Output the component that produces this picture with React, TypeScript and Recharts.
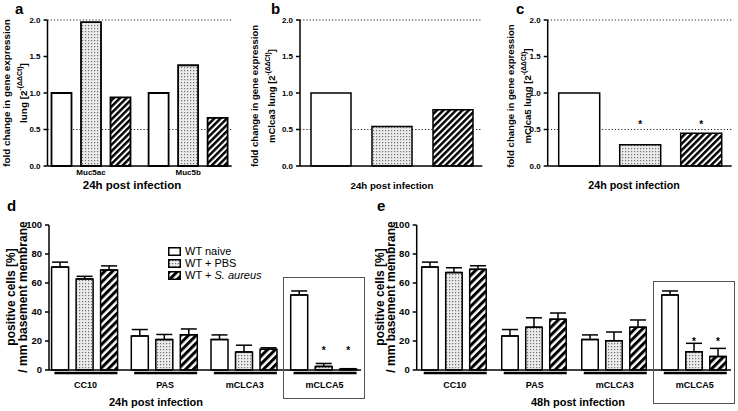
import React from "react";
import { Bar, BarChart, ErrorBar, LabelList, Legend, ReferenceLine, XAxis, YAxis } from "recharts";

const FONT = '"Liberation Sans", Arial, Helvetica, sans-serif';

// a: mucin genes, fold change 24h
const genesA = ["Muc5ac", "Muc5b"];
const naiveA = [1.0, 1.0];
const pbsA = [1.97, 1.38];
const aureusA = [0.94, 0.66];

// b: mClca3, c: mClca5 (single group each)
const naiveB = [1.0];
const pbsB = [0.54];
const aureusB = [0.77];
const naiveC = [1.0];
const pbsC = [0.29];
const aureusC = [0.45];
const starC = 0.6;

const foldTicks = [0, 0.5, 1, 1.5, 2];
const foldRefs = [0.5, 2];
const cellTicks = [0, 20, 40, 60, 80, 100];

// d / e: positive cells per mm basement membrane
const markers = ["CC10", "PAS", "mCLCA3", "mCLCA5"];
const naive24 = [71, 23.5, 21, 51.8];
const naive24Sd = [3.4, 4.4, 3.2, 2.7];
const pbs24 = [62.8, 21, 12.5, 2.5];
const pbs24Sd = [1.8, 3.5, 4.6, 2];
const aureus24 = [69, 24.3, 14.3, 0.6];
const aureus24Sd = [2.8, 4, 1, 0.3];
const star24 = 15;

const naive48 = [71, 23.5, 21, 51.8];
const naive48Sd = [3.4, 4.4, 3.2, 2.7];
const pbs48 = [67.2, 29.5, 20.2, 12.6];
const pbs48Sd = [3.3, 6.5, 6, 5.8];
const aureus48 = [69.4, 35, 29.5, 9.3];
const aureus48Sd = [2.5, 4.3, 5, 5.6];
const star48 = 21;
const starred = ["mCLCA5"];

const seriesNames = ["WT naive", "WT + PBS", "WT + S. aureus"];

const dataA = genesA.map((g, i) => ({ name: g, naive: naiveA[i], pbs: pbsA[i], aureus: aureusA[i] }));
const dataB = naiveB.map((v, i) => ({ name: "mClca3", naive: v, pbs: pbsB[i], aureus: aureusB[i] }));
const dataC = naiveC.map((v, i) => ({
  name: "mClca5",
  naive: v,
  pbs: pbsC[i],
  aureus: aureusC[i],
  sPbs: starC,
  sAureus: starC,
}));

function cellRows(naive: number[], naiveSd: number[], pbs: number[], pbsSd: number[], aur: number[], aurSd: number[], star: number) {
  return markers.map((m, i) => ({
    name: m,
    naive: naive[i],
    pbs: pbs[i],
    aureus: aur[i],
    eNaive: [0, naiveSd[i]],
    ePbs: [0, pbsSd[i]],
    eAureus: [0, aurSd[i]],
    sPbs: starred.includes(m) ? star : null,
    sAureus: starred.includes(m) ? star : null,
  }));
}
const dataD = cellRows(naive24, naive24Sd, pbs24, pbs24Sd, aureus24, aureus24Sd, star24);
const dataE = cellRows(naive48, naive48Sd, pbs48, pbs48Sd, aureus48, aureus48Sd, star48);

function patterns(id: string, step: number) {
  return (
    <defs>
      <pattern id={`dots-${id}`} width={3} height={3} patternUnits="userSpaceOnUse">
        <rect width={3} height={3} fill="#ebebeb" />
        <rect x={1} y={1} width={1.2} height={1.2} fill="#707070" />
      </pattern>
      <pattern id={`hatch-${id}`} width={step} height={step} patternUnits="userSpaceOnUse" patternTransform="rotate(45)">
        <rect width={step} height={step} fill="#fff" />
        <rect width={step * 0.55} height={step} fill="#000" />
      </pattern>
    </defs>
  );
}

// asterisk placed at a data level, using the bar's own pixel/value ratio
function makeStar(rows: any[], key: string, size: number) {
  return (props: any) => {
    const { value, index } = props;
    if (value == null) return null;
    const vb = props.viewBox || props;
    const v = rows[index][key];
    const perUnit = vb.height / v;
    const yv = vb.y + vb.height - value * perUnit;
    return (
      <text x={vb.x + vb.width / 2} y={yv + size * 0.58} textAnchor="middle" fontSize={size} fontWeight="bold" fill="#000">
        *
      </text>
    );
  };
}

function ChartText({ tx, ty, size, text }: any) {
  return (
    <text x={tx} y={ty} textAnchor="middle" fontSize={size} fontWeight="bold" fill="#000">
      {text}
    </text>
  );
}

function FoldTitle({ cx1, cx2, cy, gene, size }: any) {
  return (
    <g fontWeight="bold" fontSize={size} fill="#000">
      <text transform={`translate(${cx1},${cy}) rotate(-90)`} textAnchor="middle" dominantBaseline="central">
        fold change in gene expression
      </text>
      <text transform={`translate(${cx2},${cy}) rotate(-90)`} textAnchor="middle" dominantBaseline="central">
        {gene}lung [2
        <tspan dy={-4} fontSize={size * 0.7}>
          -(ΔΔCt)
        </tspan>
        <tspan dy={4}>]</tspan>
      </text>
    </g>
  );
}

function CellTitle({ cx1, cx2, cy, size }: any) {
  return (
    <g fontWeight="bold" fontSize={size} fill="#000">
      <text transform={`translate(${cx1},${cy}) rotate(-90)`} textAnchor="middle" dominantBaseline="central">
        positive cells [%]
      </text>
      <text transform={`translate(${cx2},${cy}) rotate(-90)`} textAnchor="middle" dominantBaseline="central">
        / mm basement membrane
      </text>
    </g>
  );
}

const GeneTick = (props: any) => {
  const { x, y, payload } = props;
  return (
    <text x={x} y={y + 9} textAnchor="middle" fontSize={8} fontWeight="bold" fill="#000">
      {payload.value}
    </text>
  );
};

const SegTick = (props: any) => {
  const { x, y, payload } = props;
  return (
    <g>
      <line x1={x - 30} x2={x + 33} y1={y + 3} y2={y + 3} stroke="#000" strokeWidth={2.5} />
      <text x={x + 1} y={y + 17.5} textAnchor="middle" fontSize={9} fontWeight="bold" fill="#000">
        {payload.value}
      </text>
    </g>
  );
};

const LegendBox = ({ payload }: any) => {
  const items = [...(payload || [])].sort((p: any, q: any) => seriesNames.indexOf(p.value) - seriesNames.indexOf(q.value));
  return (
    <div style={{ fontSize: 11, lineHeight: "12px", color: "#000" }}>
      {items.map((p: any) => (
        <div key={p.value} style={{ display: "flex", alignItems: "center", height: 12 }}>
          <svg width={13} height={9}>
            <rect x={0.75} y={0.75} width={11.5} height={7.5} fill={p.color} stroke="#000" strokeWidth={1.5} />
          </svg>
          <span style={{ marginLeft: 4 }}>
            {p.value.includes("S. aureus") ? (
              <>
                WT + <i>S. aureus</i>
              </>
            ) : (
              p.value
            )}
          </span>
        </div>
      ))}
    </div>
  );
};

const fold = (v: number) => v.toFixed(1);
const axisLine = { stroke: "#000", strokeWidth: 1.5 };

function FoldPanel({ id, data, width, yw, right, bars, gap, sw, pad, title, xtitle, tick, stars }: any) {
  return (
    <BarChart width={width} height={195} data={data} margin={{ top: 20, right, left: 0, bottom: 0 }} barSize={bars} barGap={gap}>
      {patterns(id, 4.5)}
      <XAxis
        dataKey="name"
        height={29}
        axisLine={axisLine}
        tickLine={false}
        tickSize={0}
        tickMargin={0}
        padding={pad}
        tick={tick ? <GeneTick /> : false}
        label={xtitle}
      />
      <YAxis
        width={yw}
        domain={[0, 2]}
        ticks={foldTicks}
        tickFormatter={fold}
        axisLine={axisLine}
        tickLine={{ stroke: "#000", strokeWidth: 1.5 }}
        tickSize={4}
        tickMargin={3}
        tick={{ fontSize: 8, fontWeight: "bold", fill: "#000" }}
        label={title}
      />
      {foldRefs.map((r) => (
        <ReferenceLine key={r} y={r} stroke="#222" strokeWidth={1.1} strokeDasharray="1.2 2" zIndex={-50} />
      ))}
      <Bar dataKey="naive" name={seriesNames[0]} fill="#fff" stroke="#000" strokeWidth={sw} isAnimationActive={false} />
      <Bar dataKey="pbs" name={seriesNames[1]} fill={`url(#dots-${id})`} stroke="#000" strokeWidth={sw} isAnimationActive={false}>
        {stars && <LabelList dataKey="sPbs" content={makeStar(data, "pbs", 10)} />}
      </Bar>
      <Bar dataKey="aureus" name={seriesNames[2]} fill={`url(#hatch-${id})`} stroke="#000" strokeWidth={sw} isAnimationActive={false}>
        {stars && <LabelList dataKey="sAureus" content={makeStar(data, "aureus", 10)} />}
      </Bar>
    </BarChart>
  );
}

function CellPanel({ id, data, yw, pad, bars, gap, xtitle, title, legend }: any) {
  const eb = { width: 8, stroke: "#000", strokeWidth: 1.5 };
  return (
    <BarChart width={368} height={216} data={data} margin={{ top: 30, right: 7, left: 0, bottom: 0 }} barSize={bars} barGap={gap}>
      {patterns(id, 5.5)}
      <XAxis
        dataKey="name"
        height={41}
        axisLine={axisLine}
        tickLine={false}
        tickSize={0}
        tickMargin={0}
        padding={pad}
        tick={<SegTick />}
        label={xtitle}
      />
      <YAxis
        width={yw}
        domain={[0, 100]}
        ticks={cellTicks}
        axisLine={axisLine}
        tickLine={{ stroke: "#000", strokeWidth: 1.5 }}
        tickSize={4}
        tickMargin={3}
        tick={{ fontSize: 9.5, fontWeight: "bold", fill: "#000" }}
        label={title}
      />
      {legend && (
        <Legend
          layout="vertical"
          align="center"
          verticalAlign="middle"
          content={<LegendBox />}
          wrapperStyle={{ left: 168, top: 50, width: "auto" }}
        />
      )}
      <Bar dataKey="naive" name={seriesNames[0]} fill="#fff" stroke="#000" strokeWidth={1.5} isAnimationActive={false}>
        <ErrorBar dataKey="eNaive" direction="y" {...eb} />
      </Bar>
      <Bar dataKey="pbs" name={seriesNames[1]} fill={`url(#dots-${id})`} stroke="#000" strokeWidth={1.5} isAnimationActive={false}>
        <ErrorBar dataKey="ePbs" direction="y" {...eb} />
        <LabelList dataKey="sPbs" content={makeStar(data, "pbs", 10)} />
      </Bar>
      <Bar dataKey="aureus" name={seriesNames[2]} fill={`url(#hatch-${id})`} stroke="#000" strokeWidth={1.5} isAnimationActive={false}>
        <ErrorBar dataKey="eAureus" direction="y" {...eb} />
        <LabelList dataKey="sAureus" content={makeStar(data, "aureus", 10)} />
      </Bar>
    </BarChart>
  );
}

const abs = (left: number, top: number): React.CSSProperties => ({ position: "absolute", left, top });
const letter = (left: number, top: number): React.CSSProperties => ({
  position: "absolute",
  left,
  top,
  fontSize: 15,
  lineHeight: "15px",
  fontWeight: "bold",
});
const box = (left: number, top: number, height: number): React.CSSProperties => ({
  position: "absolute",
  left,
  top,
  width: 82,
  height,
  border: "1.5px solid #555",
  boxSizing: "border-box",
  pointerEvents: "none",
});

export default function App() {
  return (
    <div style={{ position: "relative", width: 738, height: 411, background: "#fff", fontFamily: FONT, overflow: "hidden" }}>
      <style>{"body{margin:0}"}</style>

      <div style={abs(0, 0)}>
        <FoldPanel
          id="a"
          data={dataA}
          width={240}
          yw={47.5}
          right={8.3}
          bars={20}
          gap={9.5}
          sw={1.8}
          pad={{ left: -5, right: -5 }}
          tick
          title={<FoldTitle cx1={6} cx2={23} cy={93} gene="" size={9.9} />}
          xtitle={<ChartText tx={132} ty={189} size={11.5} text="24h post infection" />}
        />
      </div>
      <div style={abs(240, 0)}>
        <FoldPanel
          id="b"
          data={dataB}
          width={250}
          yw={60}
          right={7.7}
          bars={40}
          gap={21}
          sw={1.5}
          pad={{ left: 1, right: -1 }}
          title={<FoldTitle cx1={14} cx2={31} cy={96} gene="mClca3 " size={9.5} />}
          xtitle={<ChartText tx={152} ty={188.5} size={9.7} text="24h post infection" />}
        />
      </div>
      <div style={abs(480, 0)}>
        <FoldPanel
          id="c"
          data={dataC}
          width={258}
          yw={67.7}
          right={6.3}
          bars={41}
          gap={20}
          sw={1.5}
          pad={{ left: 0, right: 0 }}
          stars
          title={<FoldTitle cx1={30} cx2={47} cy={96} gene="mClca5 " size={9.6} />}
          xtitle={<ChartText tx={154} ty={189} size={10.7} text="24h post infection" />}
        />
      </div>

      <div style={abs(0, 195)}>
        <CellPanel
          id="d"
          data={dataD}
          yw={49}
          pad={{ left: -4.4, right: -2.4 }}
          bars={17}
          gap={7.5}
          legend
          title={<CellTitle cx1={11} cx2={22.5} cy={102} size={12} />}
          xtitle={<ChartText tx={156} ty={211} size={11} text="24h post infection" />}
        />
      </div>
      <div style={abs(370, 195)}>
        <CellPanel
          id="e"
          data={dataE}
          yw={46.7}
          pad={{ left: -3, right: -2.8 }}
          bars={16.5}
          gap={7.5}
          title={<CellTitle cx1={10} cx2={21} cy={102} size={12} />}
          xtitle={<ChartText tx={208} ty={211} size={11} text="48h post infection" />}
        />
      </div>

      <div style={box(283, 277, 122)} />
      <div style={box(653, 281, 123)} />

      <div style={letter(15, 1)}>a</div>
      <div style={letter(271, 1)}>b</div>
      <div style={letter(516, 1)}>c</div>
      <div style={letter(7, 198)}>d</div>
      <div style={letter(377, 198)}>e</div>
    </div>
  );
}
